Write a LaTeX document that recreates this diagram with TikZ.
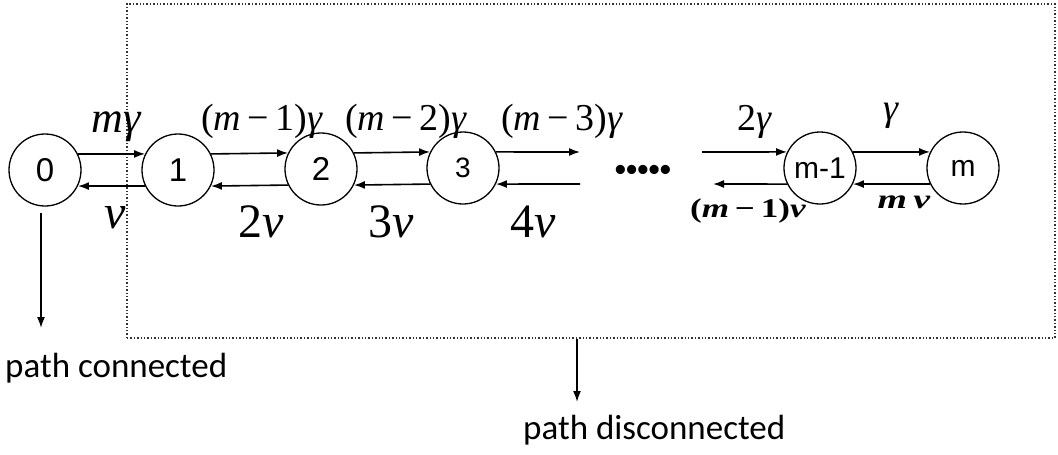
\documentclass[tikz,border=0pt]{standalone}
\usepackage{fontspec}
\usepackage{graphicx}
\setmainfont{Liberation Serif}
\newfontfamily\arialf{Liberation Sans}
\newfontfamily\calif{Carlito}
\usetikzlibrary{arrows.meta}
\begin{document}
\begin{tikzpicture}[x=1pt,y=-1pt,
  state/.style={circle,draw,line width=1.3pt,minimum size=72pt,inner sep=0pt,font=\arialf\fontsize{33}{33}\selectfont},
  statesm/.style={state,font=\arialf\fontsize{30}{30}\selectfont},
  trans/.style={line width=1.6pt,-{Latex[length=11pt,width=8pt]}},
  toplbl/.style={inner sep=0pt,anchor=base,font=\fontsize{38}{38}\selectfont},
  botlbl/.style={inner sep=0pt,anchor=base,font=\fontsize{48}{48}\selectfont},
  smlbl/.style={inner sep=0pt,anchor=base,font=\bfseries\fontsize{27}{27}\selectfont},
  caption/.style={inner sep=0pt,anchor=west,font=\calif\fontsize{35}{35}\selectfont},
  boxline/.style={line width=1.4pt,dotted,black!80}]
\useasboundingbox (0,0) rectangle (1058,455);
% box
\node[boxline,draw,minimum width=928pt,minimum height=334pt,inner sep=0pt] (box) at (591,171) {};
% states
\node[state] (n0) at (45,170) {0};
\node[state] (n1) at (178,170) {1};
\node[state] (n2) at (321,169) {2};
\node[statesm,font=\arialf\fontsize{28}{28}\selectfont] (n3) at (463,168) {3};
\node[statesm] (nm1) at (820,168) {m-1};
\node[statesm] (nm) at (963,168) {m};
% free ends
\coordinate (a3r) at (580,152);
\coordinate (a3l) at (580,184);
\coordinate (am1u) at (702,152);
\coordinate (am1l) at (713,184);
% transitions
\draw[trans] (n0.26) -- (n1.154);
\draw[trans] (n1.206) -- (n0.-26);
\draw[trans] (n1.26) -- (n2.154);
\draw[trans] (n2.206) -- (n1.-26);
\draw[trans] (n2.26) -- (n3.154);
\draw[trans] (n3.206) -- (n2.-26);
\draw[trans] (n3.26) -- (a3r);
\draw[trans] (a3l) -- (n3.-26);
\draw[trans] (am1u) -- (nm1.154);
\draw[trans] (nm1.206) -- (am1l);
\draw[trans] (nm1.26) -- (nm.154);
\draw[trans] (nm.206) -- (nm1.-26);
% dots
\node[inner sep=0pt,font=\arialf\bfseries\fontsize{32}{32}\selectfont] (dots) at (643,173) {•••••};
% rate labels
\node[toplbl,font=\fontsize{44}{44}\selectfont] (l01) at (117,132) {\textit{m}\textit{γ}};
\node[toplbl] (l12) at (262,130) {(\textit{m}\,−\,1)\textit{γ}};
\node[toplbl] (l23) at (406,130) {(\textit{m}\,−\,2)\textit{γ}};
\node[toplbl] (l34) at (562,130) {(\textit{m}\,−\,3)\textit{γ}};
\node[toplbl] (l2g) at (755,130) {2\textit{γ}};
\node[toplbl] (lg) at (891,120) {\textit{γ}};
\node[botlbl] (l10) at (115,228) {\textit{ν}};
\node[botlbl] (l21) at (261,237) {2\textit{ν}};
\node[botlbl] (l32) at (391,237) {3\textit{ν}};
\node[botlbl] (l43) at (533,237) {4\textit{ν}};
\node[smlbl] (lm1) at (748,217) {\scalebox{1.3}[1]{(\textit{m}\,−\,1)\textit{ν}}};
\node[smlbl] (lm) at (904,208) {\scalebox{1.4}[1]{\textit{m}\,\textit{ν}}};
% outputs
\coordinate (c0) at (41,328);
\coordinate (c1) at (577,402);
\draw[trans] ([yshift=-6pt]n0.south -| c0) -- (c0);
\draw[trans] (box.south -| c1) -- (c1);
\node[caption] (pc) at (5,368) {path connected};
\node[caption] (pd) at (523,430) {path disconnected};
\end{tikzpicture}
\end{document}
